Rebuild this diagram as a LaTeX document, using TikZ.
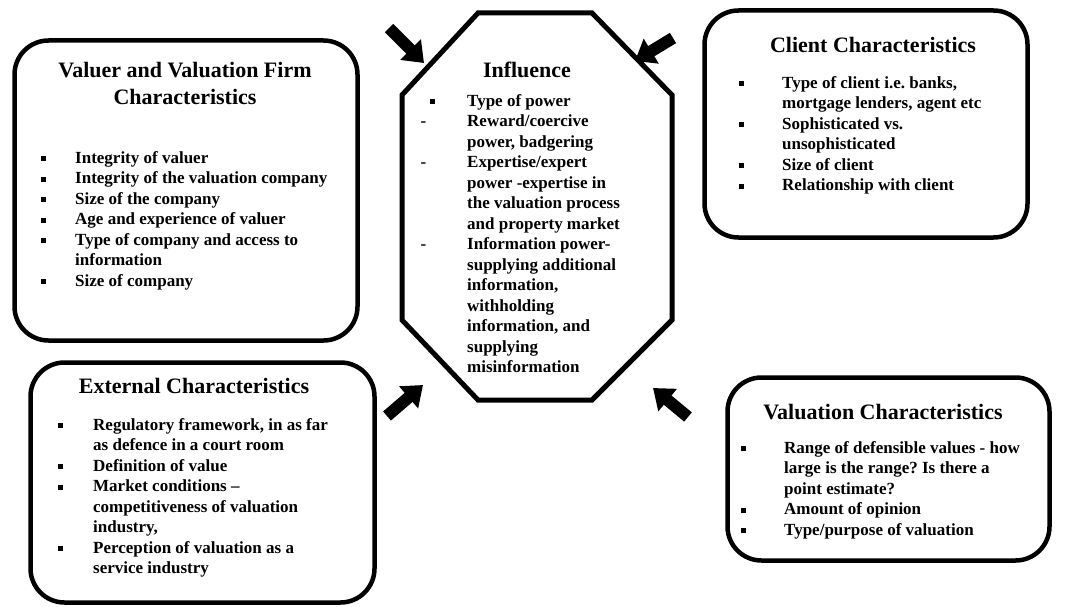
\documentclass[tikz,border=0pt]{standalone}
\usepackage{fontspec}
\setmainfont{Liberation Serif}
\usetikzlibrary{arrows.meta}
\frenchspacing
\newlength\bulgap
\newcommand\sqb{\llap{\rule[0.12em]{0.3em}{0.3em}\hspace{\bulgap}}}
\newcommand\dsb{\llap{-\hspace{\dimexpr\bulgap+9pt\relax}}}
\tikzset{bulgap/.code={\setlength\bulgap{#1}}}

\begin{document}
\begin{tikzpicture}[x=1pt,y=-1pt,
  charbox/.style={draw, line width=4.5pt, rounded corners=34pt, inner sep=0pt},
  boxtitle/.style={font=\fontsize{22}{27.5}\selectfont\bfseries, align=center, inner sep=0pt, anchor=north},
  boxlist/.style={font=\fontsize{17}{20.5}\selectfont\bfseries, align=left, inner sep=0pt, anchor=north west},
  blockarrow/.style={line width=12pt, -{Triangle[length=19pt,width=28pt]}}]
\useasboundingbox (0,0) rectangle (1075,607);

\node[charbox, minimum width=343pt, minimum height=300pt] (valuer) at (186,190.5) {};
\node[boxtitle] (valuerT) at (185,62) {Valuer and Valuation Firm\\Characteristics};
\node[boxlist, bulgap=29.5pt] (valuerL) at (75,151) {\sqb Integrity of valuer\\
\sqb Integrity of the valuation company\\
\sqb Size of the company\\
\sqb Age and experience of valuer\\
\sqb Type of company and access to\\
information\\
\sqb Size of company};

\node[charbox, minimum width=323pt, minimum height=227pt] (client) at (866,124) {};
\node[boxtitle] (clientT) at (873,37) {Client Characteristics};
\node[boxlist, bulgap=38pt] (clientL) at (782,76) {\sqb Type of client i.e. banks,\\
mortgage lenders, agent etc\\
\sqb Sophisticated vs.\\
unsophisticated\\
\sqb Size of client\\
\sqb Relationship with client};

\node[charbox, minimum width=344pt, minimum height=240pt] (external) at (202.5,482.5) {};
\node[boxtitle] (externalT) at (194,378) {External Characteristics};
\node[boxlist, bulgap=30.5pt] (externalL) at (93,418) {\sqb Regulatory framework, in as far\\
as defence in a court room\\
\sqb Definition of value\\
\sqb Market conditions --\\
competitiveness of valuation\\
industry,\\
\sqb Perception of valuation as a\\
service industry};

\node[charbox, minimum width=322pt, minimum height=183pt] (valuation) at (888.5,469) {};
\node[boxtitle] (valuationT) at (883,404) {Valuation Characteristics};
\node[boxlist, bulgap=38.5pt] (valuationL) at (784,441) {\sqb Range of defensible values - how\\
large is the range? Is there a\\
point estimate?\\
\sqb Amount of opinion\\
\sqb Type/purpose of valuation};

\draw[line width=5pt, line join=miter] (478,13) -- (592,13) -- (672,95) -- (672,320) -- (592,400) -- (478,400) -- (402,320) -- (402,95) -- cycle;
\node[boxtitle] (influenceT) at (527,62) {Influence};
\node[boxlist, bulgap=32pt] (influenceL) at (467,94) {\sqb Type of power\\
\dsb Reward/coercive\\
power, badgering\\
\dsb Expertise/expert\\
power -expertise in\\
the valuation process\\
and property market\\
\dsb Information power-\\
supplying additional\\
information,\\
withholding\\
information, and\\
supplying\\
misinformation};

\coordinate (tlA) at (389,28);
\coordinate (tlB) at (424,63);
\coordinate (trA) at (673,38);
\coordinate (trB) at (635,61);
\coordinate (blA) at (387,416);
\coordinate (blB) at (423,385);
\coordinate (brA) at (688,417);
\coordinate (brB) at (653,388);
\draw[blockarrow] (tlA) -- (tlB);
\draw[blockarrow] (trA) -- (trB);
\draw[blockarrow] (blA) -- (blB);
\draw[blockarrow] (brA) -- (brB);
\end{tikzpicture}
\end{document}
